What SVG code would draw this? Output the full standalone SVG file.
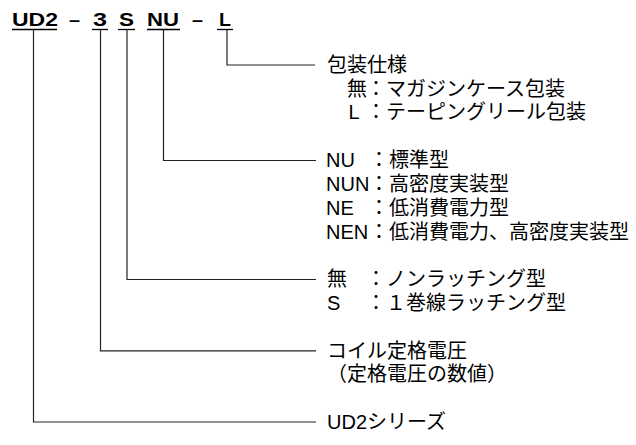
<svg xmlns="http://www.w3.org/2000/svg" width="636" height="445" viewBox="0 0 636 445">
<style>
.t{font-family:"Liberation Sans","Noto Sans CJK JP",sans-serif;font-weight:bold;font-size:17.5px;fill:#000}
.d{font-family:"Liberation Sans","Noto Sans CJK JP",sans-serif;font-size:20px;fill:#000}
.u{stroke:#000;stroke-width:1.3;fill:none}
.c{stroke:#222;stroke-width:1.2;fill:none}
</style>
<rect width="636" height="445" fill="#fff"/>
<g id="code">
<g id="seg-ud2"><text class="t" x="12" y="26" textLength="46" lengthAdjust="spacingAndGlyphs">UD2</text><line class="u" x1="12" y1="29.5" x2="57" y2="29.5"/></g>
<text class="t" x="69" y="26" textLength="11" lengthAdjust="spacingAndGlyphs">–</text>
<g id="seg-3"><text class="t" x="93" y="26" textLength="14" lengthAdjust="spacingAndGlyphs">3</text><line class="u" x1="92" y1="29.5" x2="108" y2="29.5"/></g>
<g id="seg-s"><text class="t" x="119" y="26" textLength="15" lengthAdjust="spacingAndGlyphs">S</text><line class="u" x1="118" y1="29.5" x2="135" y2="29.5"/></g>
<g id="seg-nu"><text class="t" x="147" y="26" textLength="32" lengthAdjust="spacingAndGlyphs">NU</text><line class="u" x1="147" y1="29.5" x2="180" y2="29.5"/></g>
<text class="t" x="192" y="26" textLength="11" lengthAdjust="spacingAndGlyphs">–</text>
<g id="seg-l"><text class="t" x="219" y="26" textLength="12" lengthAdjust="spacingAndGlyphs">L</text><line class="u" x1="217" y1="29.5" x2="233" y2="29.5"/></g>
</g>
<g id="connectors">
<path class="c" d="M227 29.5V65H315"/>
<path class="c" d="M163.5 29.5V160.5H316"/>
<path class="c" d="M127 29.5V279.5H316"/>
<path class="c" d="M100.5 29.5V350.8H316"/>
<path class="c" d="M33.5 29.5V422H316"/>
</g>
<g id="packaging">
<text class="d" x="327" y="71.8">包装仕様</text>
<text class="d" x="347" y="95.6">無</text><text class="d" x="366" y="95.6">：</text><text class="d" x="386" y="95.6">マガジンケース包装</text>
<text class="d" x="348.5" y="119.4">L</text><text class="d" x="366" y="119.4">：</text><text class="d" x="386" y="119.4">テーピングリール包装</text>
</g>
<g id="type">
<text class="d" x="326" y="167.2">NU</text><text class="d" x="369" y="167.2">：</text><text class="d" x="389" y="167.2">標準型</text>
<text class="d" x="326" y="191">NUN</text><text class="d" x="369" y="191">：</text><text class="d" x="389" y="191">高密度実装型</text>
<text class="d" x="326" y="214.8">NE</text><text class="d" x="369" y="214.8">：</text><text class="d" x="389" y="214.8">低消費電力型</text>
<text class="d" x="326" y="238.6">NEN</text><text class="d" x="369" y="238.6">：</text><text class="d" x="389" y="238.6">低消費電力、高密度実装型</text>
</g>
<g id="latching">
<text class="d" x="327" y="286.2">無</text><text class="d" x="366" y="286.2">：</text><text class="d" x="386" y="286.2">ノンラッチング型</text>
<text class="d" x="327" y="310">S</text><text class="d" x="366" y="310">：</text><text class="d" x="386" y="310">１巻線ラッチング型</text>
</g>
<g id="voltage">
<text class="d" x="327" y="357.6">コイル定格電圧</text>
<text class="d" x="327" y="381.4">（定格電圧の数値）</text>
</g>
<g id="series">
<text class="d" x="327" y="428.6">UD2シリーズ</text>
</g>
</svg>
